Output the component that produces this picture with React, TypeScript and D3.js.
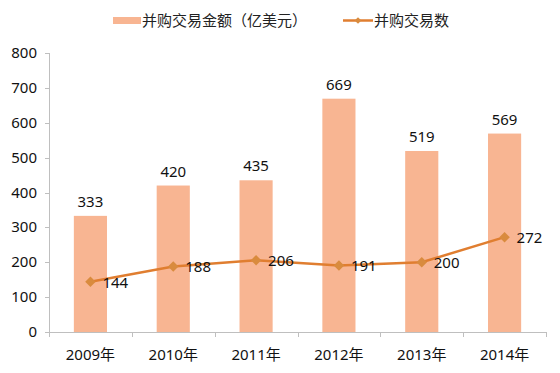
import * as d3 from 'd3'
import { useEffect, useRef } from 'react'

const years = ['2009年', '2010年', '2011年', '2012年', '2013年', '2014年']
const dealAmount = [333, 420, 435, 669, 519, 569]
const dealCount = [144, 188, 206, 191, 200, 272]
const yTicks = [0, 100, 200, 300, 400, 500, 600, 700, 800]
const amountLabel = '并购交易金额（亿美元）'
const countLabel = '并购交易数'

const W = 560
const H = 373
const BAR = '#F8B592'
const LINE = '#E07E30'
const MARK = '#D98B3E'
const FONT = '"Noto Sans", "Noto Sans CJK SC", sans-serif'
const FS = 15

export default function App() {
  const ref = useRef<SVGSVGElement>(null)

  useEffect(() => {
    const svg = d3.select(ref.current)
    svg.selectAll('*').remove()

    const left = 49, right = 546, top = 53, bottom = 332

    const x = d3.scaleBand().domain(years).range([left, right]).paddingInner(0.6).paddingOuter(0.3)
    const y = d3.scaleLinear().domain([0, 800]).range([bottom, top])

    // frame
    svg.append('rect')
      .attr('x', 1).attr('y', 1)
      .attr('width', W - 2).attr('height', H - 2)
      .attr('fill', '#fff').attr('stroke', '#868686').attr('stroke-width', 2)

    // legend
    const lg = svg.append('g').attr('font-family', FONT).attr('font-size', FS).attr('fill', '#222')
    lg.append('rect').attr('x', 113).attr('y', 17).attr('width', 28).attr('height', 7).attr('fill', BAR)
    lg.append('text').attr('x', 142).attr('y', 26).text(amountLabel)
    lg.append('line').attr('x1', 343).attr('x2', 373).attr('y1', 20.5).attr('y2', 20.5)
      .attr('stroke', LINE).attr('stroke-width', 2.5)
    lg.append('path').attr('d', d3.symbol(d3.symbolDiamond2, 28)())
      .attr('transform', 'translate(358,20.5)').attr('fill', MARK)
    lg.append('text').attr('x', 374).attr('y', 26).text(countLabel)

    // axes
    const axisG = svg.append('g').attr('font-family', FONT).attr('font-size', FS).attr('fill', '#111')
    axisG.append('line').attr('x1', left + 0.5).attr('x2', left + 0.5).attr('y1', top).attr('y2', bottom)
      .attr('stroke', '#bfbfbf')
    axisG.selectAll('.yt').data(yTicks).enter().append('line')
      .attr('x1', left - 4).attr('x2', left).attr('y1', d => Math.round(y(d)) + 0.5).attr('y2', d => Math.round(y(d)) + 0.5)
      .attr('stroke', '#bfbfbf')
    axisG.selectAll('.yl').data(yTicks).enter().append('text')
      .attr('x', 37).attr('y', d => y(d) + 5).attr('text-anchor', 'end').text(d => d)

    axisG.append('line').attr('x1', left).attr('x2', right).attr('y1', bottom + 0.5).attr('y2', bottom + 0.5)
      .attr('stroke', '#bfbfbf')
    const bounds = d3.range(years.length + 1).map(i => left + i * (right - left) / years.length)
    axisG.selectAll('.xt').data(bounds).enter().append('line')
      .attr('x1', d => Math.round(d) + 0.5).attr('x2', d => Math.round(d) + 0.5)
      .attr('y1', bottom).attr('y2', bottom + 5).attr('stroke', '#bfbfbf')
    axisG.selectAll('.xl').data(years).enter().append('text')
      .attr('x', d => x(d)! + x.bandwidth() / 2).attr('y', 360).attr('text-anchor', 'middle').text(d => d)

    // bars
    const bars = svg.append('g')
    bars.selectAll('rect').data(dealAmount).enter().append('rect')
      .attr('x', (d, i) => x(years[i])!).attr('width', x.bandwidth())
      .attr('y', d => y(d)).attr('height', d => bottom - y(d)).attr('fill', BAR)
    bars.selectAll('text').data(dealAmount).enter().append('text')
      .attr('x', (d, i) => x(years[i])! + x.bandwidth() / 2).attr('y', d => y(d) - 9)
      .attr('text-anchor', 'middle').attr('font-family', FONT).attr('font-size', FS).attr('fill', '#111')
      .text(d => d)

    // line
    const cx = (i: number) => x(years[i])! + x.bandwidth() / 2
    const line = d3.line<number>().x((d, i) => cx(i)).y(d => y(d))
    svg.append('path').datum(dealCount).attr('d', line).attr('fill', 'none')
      .attr('stroke', LINE).attr('stroke-width', 2.5)
    svg.selectAll('.mk').data(dealCount).enter().append('path')
      .attr('d', d3.symbol(d3.symbolDiamond2, 70)())
      .attr('transform', (d, i) => `translate(${cx(i)},${y(d)})`).attr('fill', MARK)
    svg.selectAll('.ml').data(dealCount).enter().append('text')
      .attr('x', (d, i) => cx(i) + 12).attr('y', d => y(d) + 6)
      .attr('font-family', FONT).attr('font-size', FS).attr('fill', '#111')
      .text(d => d)
  }, [])

  return (
    <div style={{ margin: -8, width: W, height: H }}>
      <svg ref={ref} width={W} height={H} style={{ display: 'block' }} />
    </div>
  )
}
